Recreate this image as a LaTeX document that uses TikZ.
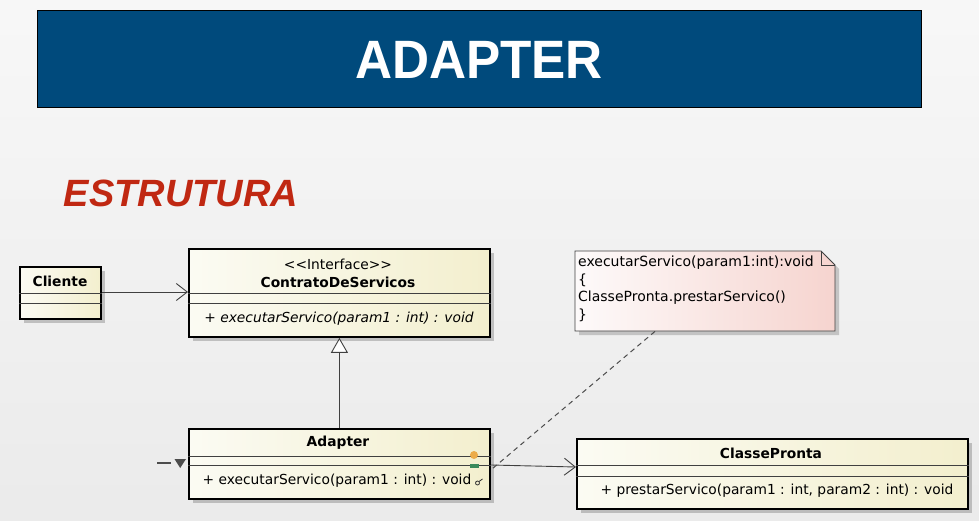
\documentclass[tikz,border=0pt]{standalone}
\usepackage{fontspec}
\setmainfont{DejaVu Sans}
\newfontfamily\titlefont{Liberation Sans}
\usetikzlibrary{arrows.meta,shadows,calc}
\definecolor{bannerblue}{RGB}{0,74,124}
\definecolor{titlered}{RGB}{192,40,18}
\definecolor{ylwA}{RGB}{251,251,243}
\definecolor{ylwB}{RGB}{243,239,206}
\definecolor{pinkA}{RGB}{253,250,250}
\definecolor{pinkB}{RGB}{246,212,207}
\definecolor{dotorange}{RGB}{236,172,72}
\definecolor{dotgreen}{RGB}{58,138,92}
\begin{document}
\begin{tikzpicture}[x=1pt,y=-1pt,
  umlbox/.style={draw=black, line width=1.8pt, left color=ylwA, right color=ylwB,
    inner sep=0pt, anchor=north west,
    drop shadow={shadow xshift=4pt, shadow yshift=-4pt, opacity=0.2, fill=black}},
  sepline/.style={draw=black!75, line width=0.8pt},
  umltext/.style={font=\fontsize{13.8}{15}\selectfont, inner sep=0pt},
  umlname/.style={font=\fontsize{13.8}{15}\selectfont\bfseries, inner sep=0pt},
  notetext/.style={font=\fontsize{14}{16}\selectfont, inner sep=0pt, anchor=west},
  assoc/.style={draw=black!75, line width=0.9pt, -{Straight Barb[length=11pt,width=17pt,line width=0.9pt]}},
  general/.style={draw=black!75, line width=0.9pt, -{Triangle[open,length=15pt,width=17pt,line width=0.9pt,fill=white]}},
  noteline/.style={draw=black!70, line width=1pt, dash pattern=on 5pt off 4pt}]
\useasboundingbox (0,0) rectangle (979,521);
\fill[top color=white!97!black, bottom color=white!92!black] (0,0) rectangle (979,521);

% banner
\node[draw=black, line width=1pt, fill=bannerblue, minimum width=884pt, minimum height=97pt,
  anchor=north west, inner sep=0pt] (banner) at (37,10) {};
\node[text=white, inner sep=0pt, xscale=0.95, font=\titlefont\bfseries\fontsize{54}{54}\selectfont] (title) at (479,60) {ADAPTER};

% subtitle
\node[text=titlered, inner sep=0pt, font=\titlefont\bfseries\itshape\fontsize{38}{38}\selectfont] (sub) at (181,193) {ESTRUTURA};

% Cliente
\node[umlbox, minimum width=81pt, minimum height=52pt] (cliente) at (19,266) {};
\draw[sepline] ([yshift=-27pt]cliente.north west) -- ([yshift=-27pt]cliente.north east);
\draw[sepline] ([yshift=-37pt]cliente.north west) -- ([yshift=-37pt]cliente.north east);
\node[umlname] (clientename) at (60,281) {Cliente};

% ContratoDeServicos
\node[umlbox, minimum width=301pt, minimum height=88pt] (contrato) at (188,248) {};
\draw[sepline] ([yshift=-45pt]contrato.north west) -- ([yshift=-45pt]contrato.north east);
\draw[sepline] ([yshift=-55pt]contrato.north west) -- ([yshift=-55pt]contrato.north east);
\node[umltext] (stereo) at (338,264) {<{}<Interface>{}>};
\node[umlname] (contratoname) at (338,282) {ContratoDeServicos};
\node[umltext, font=\fontsize{13.8}{15}\selectfont\itshape] (contratoop) at (339,319) {+ executarServico(param1 : int) : void};

% Adapter
\node[umlbox, minimum width=301pt, minimum height=70pt] (adapter) at (188,428) {};
\draw[sepline] ([yshift=-28pt]adapter.north west) -- ([yshift=-28pt]adapter.north east);
\draw[sepline] ([yshift=-37pt]adapter.north west) -- ([yshift=-37pt]adapter.north east);
\node[umlname] (adaptername) at (338,443) {Adapter};
\node[umltext] (adapterop) at (337,481) {+ executarServico(param1 : int) : void};
\fill[dotorange] (474,455) circle (4pt);
\fill[dotgreen] (470,464) rectangle (479,468);
\draw[black!80, line width=0.8pt] (477.5,483) circle (2pt);
\draw[black!80, line width=0.8pt] (479,481.5) -- (482.5,479);
% left marker
\draw[black!70, line width=2pt] (157,463) -- (171,463);
\fill[black!70] (174.5,459) -- (186,459) -- (180.2,468) -- cycle;

% ClassePronta
\node[umlbox, minimum width=391pt, minimum height=70pt] (classe) at (576,438) {};
\draw[sepline] ([yshift=-27pt]classe.north west) -- ([yshift=-27pt]classe.north east);
\draw[sepline] ([yshift=-38pt]classe.north west) -- ([yshift=-38pt]classe.north east);
\node[umlname] (classename) at (771,453) {ClassePronta};
\node[umltext] (classeop) at (777,491) {+ prestarServico(param1 : int, param2 : int) : void};

% note
\node[inner sep=0pt, anchor=north west, minimum width=260pt, minimum height=80pt] (note) at (575,251) {};
\path[left color=pinkA, right color=pinkB, draw=black!75, line width=0.9pt,
  drop shadow={shadow xshift=4pt, shadow yshift=-4pt, opacity=0.18, fill=black}]
  (575,251) -- (821,251) -- (835,265) -- (835,331) -- (575,331) -- cycle;
\draw[black!75, line width=0.9pt] (821,251) -- (821,265) -- (835,265);
\node[notetext] (n1) at (578,263) {executarServico(param1:int):void};
\node[notetext] (n2) at (578,280) {\{};
\node[notetext] (n3) at (578,298) {ClassePronta.prestarServico()};
\node[notetext] (n4) at (578,315) {\}};

% connectors
\draw[assoc] ([yshift=-26pt]cliente.north east) -- ([yshift=-44pt]contrato.north west);
\draw[general] (adapter.north) -- (contrato.south);
\draw[assoc] ([yshift=-37pt]adapter.north east) -- ([yshift=-29pt]classe.north west);
\draw[noteline] ([xshift=80pt]note.south west) -- ([yshift=-42pt]adapter.north east);
\end{tikzpicture}
\end{document}
